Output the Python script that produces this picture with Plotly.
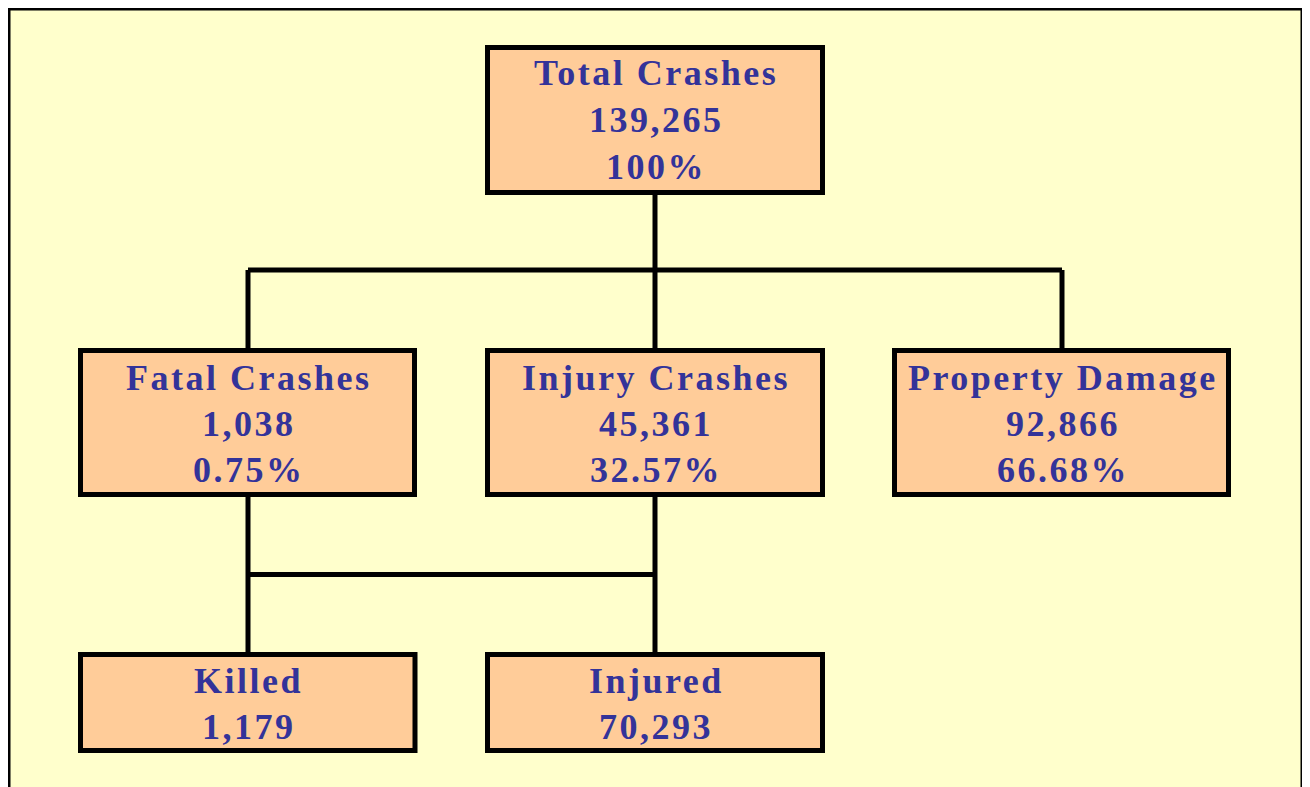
import plotly.graph_objects as go

# ---- data ----
titles = ["Total Crashes", "Fatal Crashes", "Injury Crashes", "Property Damage", "Killed", "Injured"]
counts = ["139,265", "1,038", "45,361", "92,866", "1,179", "70,293"]
shares = ["100%", "0.75%", "32.57%", "66.68%", None, None]
parents = [None, 0, 0, 0, 1, 2]

# ---- layout (pixel coords of page, y down) ----
box_x = [(487.5, 822.5), (80.5, 414.5), (487.5, 822.5), (894.5, 1228.5), (80.5, 415.0), (487.5, 822.5)]
box_y = [(47.5, 192.5), (350.5, 494.5), (350.5, 494.5), (350.5, 494.5), (654.5, 750.5), (654.5, 750.5)]
line_y = [[73, 120, 167], [378, 424, 470], [378, 424, 470], [378, 424, 470], [681, 727], [681, 727]]
conn_x = [655, 248, 655, 1062, 248, 655]

W, H = 1310, 787
OFF = 8  # page body margin
FILL = "#FFCC99"
BG = "#FFFFCC"
TXT = "#333399"
LW = 5

shapes = []
shapes.append(dict(type="rect", xref="x", yref="y", x0=8.5, x1=1302.5, y0=8.5, y1=820,
                   fillcolor=BG, line=dict(color="black", width=4), layer="below"))

def connector(px, py, cxs, cy, midy):
    segs = [(px, py, px, midy)]
    xs = cxs + [px]
    segs.append((min(xs), midy, max(xs), midy))
    for cx in cxs:
        segs.append((cx, midy, cx, cy))
    return segs

segs = []
segs += connector(conn_x[0], box_y[0][1], [conn_x[1], conn_x[2], conn_x[3]], box_y[1][0], 270)
segs += [(conn_x[1], box_y[1][1], conn_x[1], box_y[4][0]),
         (conn_x[2], box_y[2][1], conn_x[2], box_y[5][0]),
         (conn_x[1], 574.5, conn_x[2], 574.5)]
for (x0, y0, x1, y1) in segs:
    shapes.append(dict(type="line", xref="x", yref="y", x0=x0, y0=y0, x1=x1, y1=y1,
                       line=dict(color="black", width=LW), layer="above"))

for i in range(len(titles)):
    shapes.append(dict(type="rect", xref="x", yref="y", x0=box_x[i][0], x1=box_x[i][1],
                       y0=box_y[i][0], y1=box_y[i][1], fillcolor=FILL,
                       line=dict(color="black", width=LW), layer="above"))

annotations = []
for i in range(len(titles)):
    lines = [titles[i], counts[i]] + ([shares[i]] if shares[i] else [])
    cx = (box_x[i][0] + box_x[i][1]) / 2 + 1
    for t, y in zip(lines, line_y[i]):
        annotations.append(dict(x=cx, y=y, xref="x", yref="y",
                                text='<span style="letter-spacing:2.5px"><b>%s</b></span>' % t,
                                showarrow=False, xanchor="center", yanchor="middle",
                                font=dict(family="Liberation Serif", size=36, color=TXT)))

fig = go.Figure()
fig.add_trace(go.Scatter(x=[OFF, W + OFF], y=[OFF, H + OFF], mode="markers", marker=dict(opacity=0),
                         hoverinfo="skip", showlegend=False))
fig.update_layout(width=W, height=H, margin=dict(l=0, r=0, t=0, b=0),
                  paper_bgcolor="white", plot_bgcolor="white",
                  shapes=shapes, annotations=annotations, showlegend=False,
                  xaxis=dict(range=[OFF, W + OFF], visible=False, fixedrange=True),
                  yaxis=dict(range=[H + OFF, OFF], visible=False, fixedrange=True))
fig.write_html("out.html", config={"displayModeBar": False})
